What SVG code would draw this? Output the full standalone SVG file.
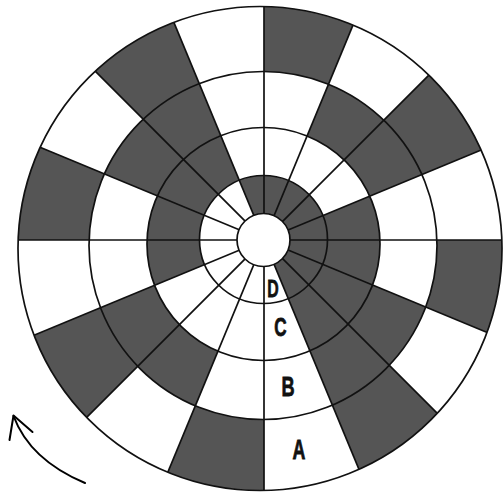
<svg xmlns="http://www.w3.org/2000/svg" width="503" height="499" viewBox="0 0 503 499">
  <style>
    .dk { fill: #555555; }
    .wh { fill: #ffffff; }
    .ring { fill: none; stroke: #111111; stroke-width: 1.7; }
    .spoke { stroke: #111111; stroke-width: 1.7; }
    .lbl { font-family: "Liberation Sans", Arial, sans-serif; font-weight: bold; fill: #111111; stroke: #111111; stroke-width: 0.8; text-anchor: middle; }
    .arrow { fill: none; stroke: #000000; stroke-width: 2; stroke-linecap: round; stroke-linejoin: round; }
  </style>
  <defs>
    <clipPath id="clipA"><circle cx="260" cy="248.5" r="242"/></clipPath>
    <clipPath id="clipB"><circle cx="263" cy="245.5" r="174"/></clipPath>
    <clipPath id="clipC"><circle cx="263.5" cy="244" r="116.5"/></clipPath>
    <clipPath id="clipD"><circle cx="263.5" cy="239.5" r="64"/></clipPath>
  </defs>
  <rect x="0" y="0" width="503" height="499" fill="#ffffff"/>

  <g id="ringA">
    <circle class="wh" cx="260" cy="248.5" r="242"/>
    <g clip-path="url(#clipA)">
      <polygon class="dk" points="264,240 564,240 541.2,354.8"/>
      <polygon class="dk" points="264,240 476.1,452.1 378.8,517.2"/>
      <polygon class="dk" points="264,240 264,540 149.2,517.2"/>
      <polygon class="dk" points="264,240 51.9,452.1 -13.2,354.8"/>
      <polygon class="dk" points="264,240 -36,240 -13.2,125.2"/>
      <polygon class="dk" points="264,240 51.9,27.9 149.2,-37.2"/>
      <polygon class="dk" points="264,240 264,-60 378.8,-37.2"/>
      <polygon class="dk" points="264,240 476.1,27.9 541.2,125.2"/>
    </g>
  </g>

  <g id="ringB">
    <circle class="wh" cx="263" cy="245.5" r="174"/>
    <g clip-path="url(#clipB)">
      <polygon class="dk" points="264,240 541.2,354.8 476.1,452.1 378.8,517.2"/>
      <polygon class="dk" points="264,240 149.2,517.2 51.9,452.1 -13.2,354.8"/>
      <polygon class="dk" points="264,240 -13.2,125.2 51.9,27.9 149.2,-37.2"/>
      <polygon class="dk" points="264,240 378.8,-37.2 476.1,27.9 541.2,125.2"/>
    </g>
  </g>

  <g id="ringC">
    <circle class="wh" cx="263.5" cy="244" r="116.5"/>
    <g clip-path="url(#clipC)">
      <polygon class="dk" points="264,240 541.2,125.2 564,240 541.2,354.8 476.1,452.1 378.8,517.2"/>
      <polygon class="dk" points="264,240 -13.2,354.8 -36,240 -13.2,125.2 51.9,27.9 149.2,-37.2"/>
    </g>
  </g>

  <g id="ringD">
    <circle class="wh" cx="263.5" cy="239.5" r="64"/>
    <g clip-path="url(#clipD)">
      <polygon class="dk" points="264,240 149.2,-37.2 264,-60 378.8,-37.2 476.1,27.9 541.2,125.2 564,240 541.2,354.8 476.1,452.1 378.8,517.2"/>
    </g>
  </g>

  <g id="spokes" clip-path="url(#clipA)">
    <line class="spoke" x1="564" y1="240" x2="-36" y2="240"/>
    <line class="spoke" x1="541.2" y1="354.8" x2="-13.2" y2="125.2"/>
    <line class="spoke" x1="476.1" y1="452.1" x2="51.9" y2="27.9"/>
    <line class="spoke" x1="378.8" y1="517.2" x2="149.2" y2="-37.2"/>
    <line class="spoke" x1="264" y1="540" x2="264" y2="-60"/>
    <line class="spoke" x1="149.2" y1="517.2" x2="378.8" y2="-37.2"/>
    <line class="spoke" x1="51.9" y1="452.1" x2="476.1" y2="27.9"/>
    <line class="spoke" x1="-13.2" y1="354.8" x2="541.2" y2="125.2"/>
  </g>

  <g id="rings">
    <circle class="ring" cx="260" cy="248.5" r="242"/>
    <circle class="ring" cx="263" cy="245.5" r="174"/>
    <circle class="ring" cx="263.5" cy="244" r="116.5"/>
    <circle class="ring" cx="263.5" cy="239.5" r="64"/>
  </g>

  <g id="hub">
    <circle cx="263.5" cy="240" r="26.5" fill="#ffffff" stroke="#111111" stroke-width="1.7"/>
  </g>

  <g id="labels">
    <text class="lbl" font-size="24" transform="translate(273,297) scale(0.66,1)">D</text>
    <text class="lbl" font-size="26" transform="translate(280.5,336) scale(0.66,1)">C</text>
    <text class="lbl" font-size="27.5" transform="translate(288,395.5) scale(0.66,1)">B</text>
    <text class="lbl" font-size="27" transform="translate(299,459) scale(0.66,1)">A</text>
  </g>

  <g id="arrow">
    <path class="arrow" d="M85,483 Q30,460 13.5,416"/>
    <path class="arrow" d="M9.5,440 L13.5,415.5 L32.5,432"/>
  </g>
</svg>
